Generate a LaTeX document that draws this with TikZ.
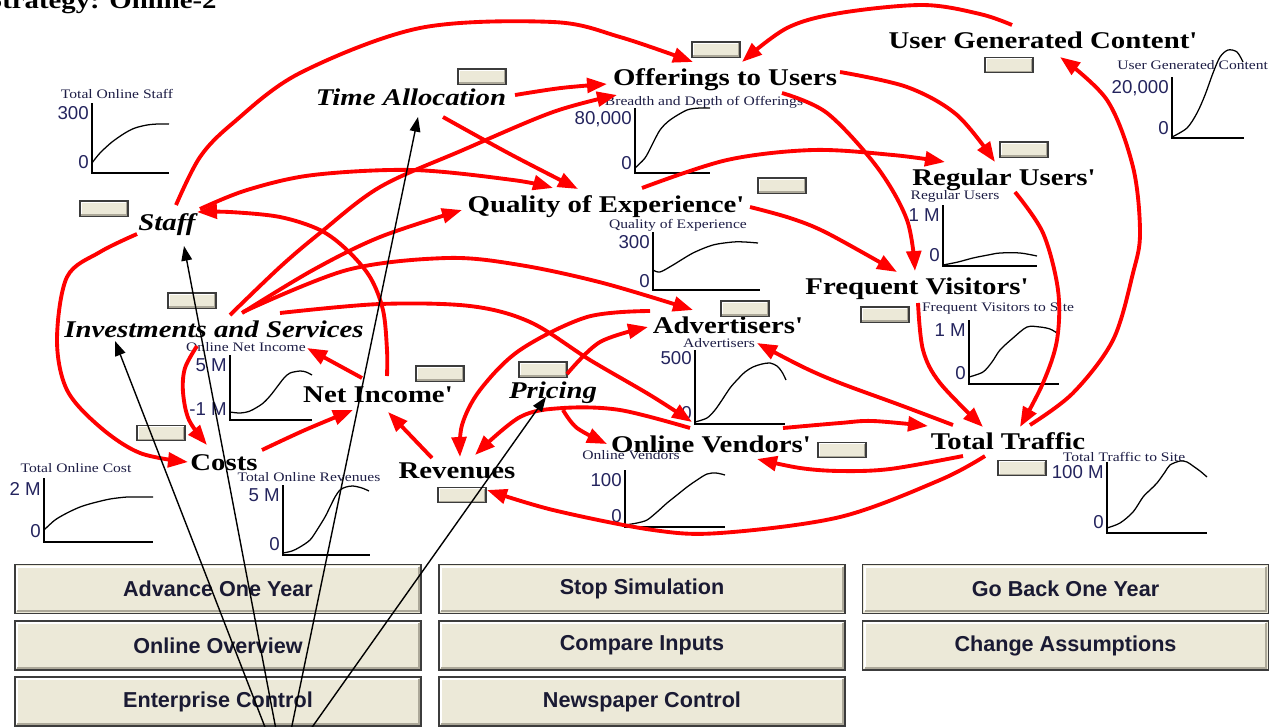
\documentclass[tikz,border=0pt]{standalone}
\usepackage{fontspec}
\usetikzlibrary{arrows.meta}
\newfontfamily\labfont[FakeStretch=1.2]{Liberation Serif}
\newfontfamily\numfont{Liberation Sans}
\definecolor{btnface}{HTML}{ECE9D8}
\definecolor{btnedge}{HTML}{3C3C3C}
\definecolor{btnshade}{HTML}{ACA899}
\definecolor{gtext}{HTML}{1E1E46}
\definecolor{gnum}{HTML}{24245E}
\definecolor{btntext}{HTML}{1A1A33}
\definecolor{linkred}{HTML}{FF0000}
\begin{document}
\begin{tikzpicture}[x=0.75pt,y=-0.75pt,
  lab/.style={font=\labfont\bfseries\fontsize{18}{20}\selectfont, inner sep=0pt,
    text height=12.5pt, text depth=3.5pt, anchor=center},
  labi/.style={lab, font=\labfont\bfseries\itshape\fontsize{18}{20}\selectfont},
  gtitle/.style={font=\labfont\fontsize{9.75}{11}\selectfont, text=gtext, inner sep=0pt},
  glabel/.style={font=\numfont\fontsize{14}{16}\selectfont, text=gnum, inner sep=0pt, anchor=east},
  gaxis/.style={draw=black, line width=1.1pt},
  gcurve/.style={draw=black, line width=0.95pt},
  bevel/.style={path picture={
    \draw[white,line width=#1] ([shift={(#1,#1)}]path picture bounding box.south west)
      |- ([shift={(-#1,-#1)}]path picture bounding box.north east);
    \draw[btnshade,line width=#1] ([shift={(#1,#1)}]path picture bounding box.south west)
      -| ([shift={(-#1,-#1)}]path picture bounding box.north east);}},
  bigbtn/.style={draw=btnedge, line width=1.3pt, fill=btnface, bevel=1.6pt,
    minimum width=304.5pt, minimum height=36.75pt, inner sep=0pt,
    font=\numfont\bfseries\fontsize{16.2}{18}\selectfont, text=btntext},
  smallbtn/.style={draw=btnedge, line width=1.1pt, fill=btnface, bevel=1pt,
    minimum width=36pt, minimum height=11.6pt, inner sep=0pt},
  rarr/.style={draw=linkred, line width=2.9pt, line join=round,
    -{Triangle[length=15pt,width=11pt]}},
  barr/.style={draw=black, line width=1.05pt, -{Triangle[length=11pt,width=8pt]}}
]
\useasboundingbox[fill=white] (0,0) rectangle (1270,726);

% ---------- control buttons ----------
\node[bigbtn] (bAdvance) at (218,589) {Advance One Year};
\node[bigbtn] (bStop) at (642,589) {Stop Simulation};
\node[bigbtn] (bBack) at (1065.5,589) {Go Back One Year};
\node[bigbtn] (bOverview) at (218,645.5) {Online Overview};
\node[bigbtn] (bCompare) at (642,645.5) {Compare Inputs};
\node[bigbtn] (bAssume) at (1065.5,645.5) {Change Assumptions};
\node[bigbtn] (bEnterprise) at (218,701.5) {Enterprise Control};
\node[bigbtn] (bNewspaper) at (642,701.5) {Newspaper Control};

% ---------- small time-series graphs ----------
% Total Online Staff
\node[gtitle] (tStaff) at (117,94) {Total Online Staff};
\draw[gaxis] (92,103) -- (92,173) -- (169,173);
\node[glabel] (hStaff) at (89,113) {300};
\node[glabel] (lStaff) at (89,162) {0};
\draw[gcurve] plot[smooth] coordinates {(92,163) (100,153) (112,142) (125,133) (135,128) (147,125) (158,124) (169,124)};
% Breadth and Depth of Offerings
\node[gtitle] (tOffer) at (704,102) {Breadth and Depth of Offerings};
\draw[gaxis] (635,108) -- (635,173) -- (710,173);
\node[glabel] (hOffer) at (632,119) {80,000};
\node[glabel] (lOffer) at (632,163) {0};
\draw[gcurve] plot[smooth] coordinates {(635,168) (645,158) (652,145) (660,130) (670,120) (687,110) (700,108) (710,108)};
% User Generated Content
\node[gtitle, anchor=west] (tUgc) at (1117,65) {User Generated Content};
\draw[gaxis] (1172,77) -- (1172,138) -- (1244,138);
\node[glabel] (hUgc) at (1169,88) {20,000};
\node[glabel] (lUgc) at (1169,128) {0};
\draw[gcurve] plot[smooth] coordinates {(1172,137) (1187,128) (1197,113) (1205,95) (1213,73) (1220,57) (1228,50) (1237,52) (1243,62)};
% Quality of Experience
\node[gtitle] (tQual) at (678,225) {Quality of Experience};
\draw[gaxis] (653,232) -- (653,290) -- (760,290);
\node[glabel] (hQual) at (650,242) {300};
\node[glabel] (lQual) at (650,281) {0};
\draw[gcurve] plot[smooth] coordinates {(653,270) (660,272) (673,265) (693,253) (713,245) (733,242) (745,242) (758,243)};
% Regular Users
\node[gtitle] (tReg) at (955,196) {Regular Users};
\draw[gaxis] (943,205) -- (943,266) -- (1037,266);
\node[glabel] (hReg) at (940,215) {1 M};
\node[glabel] (lReg) at (940,255) {0};
\draw[gcurve] plot[smooth] coordinates {(943,265) (958,262) (973,258) (988,255) (1000,253) (1020,253) (1037,256)};
% Frequent Visitors to Site
\node[gtitle] (tFreq) at (998,309) {Frequent Visitors to Site};
\draw[gaxis] (969,320) -- (969,384) -- (1059,384);
\node[glabel] (hFreq) at (966,330) {1 M};
\node[glabel] (lFreq) at (966,373) {0};
\draw[gcurve] plot[smooth] coordinates {(969,377) (983,372) (992,362) (1000,350) (1013,338) (1027,327) (1040,327) (1050,329) (1057,333)};
% Advertisers
\node[gtitle] (tAdv) at (719,343) {Advertisers};
\draw[gaxis] (695,350) -- (695,424) -- (785,424);
\node[glabel] (hAdv) at (692,358) {500};
\node[glabel] (lAdv) at (692,413) {0};
\draw[gcurve] plot[smooth] coordinates {(695,422) (707,418) (715,410) (722,400) (730,388) (737,380) (745,372) (753,367) (762,364) (770,363) (777,366) (782,372) (786,380)};
% Online Net Income
\node[gtitle] (tNet) at (246,347) {Online Net Income};
\draw[gaxis] (230,355) -- (230,420) -- (312,420);
\node[glabel] (hNet) at (227,365) {5 M};
\node[glabel] (lNet) at (227,409) {-1 M};
\draw[gcurve] plot[smooth] coordinates {(230,412) (240,413) (250,411) (262,404) (270,396) (277,387) (284,378) (290,373) (300,371) (306,372) (312,375)};
% Total Online Cost
\node[gtitle] (tCost) at (76,468) {Total Online Cost};
\draw[gaxis] (44,478) -- (44,542) -- (153,542);
\node[glabel] (hCost) at (41,489) {2 M};
\node[glabel] (lCost) at (41,531) {0};
\draw[gcurve] plot[smooth] coordinates {(44,530) (55,520) (67,513) (80,507) (93,503) (110,499) (127,497) (140,497) (153,497)};
% Total Online Revenues
\node[gtitle] (tRev) at (309,477) {Total Online Revenues};
\draw[gaxis] (283,485) -- (283,555) -- (370,555);
\node[glabel] (hRev) at (280,495) {5 M};
\node[glabel] (lRev) at (280,544) {0};
\draw[gcurve] plot[smooth] coordinates {(283,553) (292,551) (300,547) (310,540) (317,530) (325,517) (330,507) (335,497) (340,490) (346,487) (353,486) (362,488) (369,491)};
% Online Vendors
\node[gtitle] (tVend) at (631,455) {Online Vendors};
\draw[gaxis] (625,470) -- (625,527) -- (725,527);
\node[glabel] (hVend) at (622,480) {100};
\node[glabel] (lVend) at (622,516) {0};
\draw[gcurve] plot[smooth] coordinates {(625,525) (637,523) (647,520) (657,512) (667,503) (677,495) (687,487) (697,480) (707,474) (716,473) (725,475)};
% Total Traffic to Site
\node[gtitle] (tTraf) at (1124,457) {Total Traffic to Site};
\draw[gaxis] (1107,462) -- (1107,533) -- (1207,533);
\node[glabel] (hTraf) at (1104,472) {100 M};
\node[glabel] (lTraf) at (1104,522) {0};
\draw[gcurve] plot[smooth] coordinates {(1107,528) (1120,523) (1133,512) (1143,497) (1150,490) (1157,483) (1165,472) (1170,465) (1180,461) (1187,462) (1193,466) (1200,471) (1207,477)};

% ---------- model variables ----------
\node[lab, anchor=base west] (heading) at (-14,8) {Strategy: Online-2};
\node[lab]  (offer)    at (725,79)  {Offerings to Users};
\node[labi] (timeal)   at (411,99)  {Time Allocation};
\node[lab]  (ugc)      at (1043,42) {User Generated Content'};
\node[lab]  (regusers) at (1004,179) {Regular Users'};
\node[lab]  (quality)  at (606,206) {Quality of Experience'};
\node[labi] (staff)    at (167,224) {Staff};
\node[lab]  (freqvis)  at (917,288) {Frequent Visitors'};
\node[labi] (invest)   at (214,331) {Investments and Services};
\node[lab]  (advert)   at (728,327) {Advertisers'};
\node[lab]  (netinc)   at (378,396) {Net Income'};
\node[labi] (pricing)  at (553,392) {Pricing};
\node[lab]  (vendors)  at (711,446) {Online Vendors'};
\node[lab]  (traffic)  at (1008,443) {Total Traffic};
\node[lab]  (costs)    at (224,464) {Costs};
\node[lab]  (revenues) at (457,472) {Revenues};

% ---------- small value buttons ----------
\node[smallbtn] (sbOffer) at (716,49.5) {};
\node[smallbtn] (sbTime)  at (482,76.5) {};
\node[smallbtn] (sbUgc)   at (1009,65) {};
\node[smallbtn] (sbReg)   at (1024,149.5) {};
\node[smallbtn] (sbQual)  at (782,185.5) {};
\node[smallbtn] (sbStaff) at (104,208.5) {};
\node[smallbtn] (sbInv)   at (192,300.5) {};
\node[smallbtn] (sbFreq)  at (885,314.5) {};
\node[smallbtn] (sbAdv)   at (745,308.5) {};
\node[smallbtn] (sbNet)   at (440,373.5) {};
\node[smallbtn] (sbPrice) at (543,369.5) {};
\node[smallbtn] (sbCost)  at (161,433) {};
\node[smallbtn] (sbVend)  at (842,450) {};
\node[smallbtn] (sbTraf)  at (1022,468) {};
\node[smallbtn] (sbRev)   at (462,495) {};

% ---------- causal links ----------
% into Offerings to Users
\draw[rarr] plot[smooth,tension=0.55] coordinates {([shift={(9,-19)}]staff.center) (200,157) (233,123) (300,73) (420,28) (553,22) (620,37) ([shift={(-32,-17)}]offer.center)};
\draw[rarr] plot[smooth,tension=0.55] coordinates {([shift={(-31,-17)}]ugc.center) (980,14) (923,5) (840,13) (787,28) ([shift={(17,-17)}]offer.center)};
\draw[rarr] plot[smooth,tension=0.55] coordinates {([shift={(104,-4)}]timeal.center) (561,88) ([shift={(-118,5)}]offer.center)};
\draw[rarr] plot[smooth,tension=0.55] coordinates {([shift={(16,-16)}]invest.center) (280,267) (320,233) (380,187) (463,150) (553,112) ([shift={(-108,16)}]offer.center)};
% from Offerings to Users
\draw[rarr] plot[smooth,tension=0.55] coordinates {([shift={(115,-7)}]offer.center) (907,87) (957,115) ([shift={(-9,-17)}]regusers.center)};
\draw[rarr] plot[smooth,tension=0.55] coordinates {([shift={(57,14)}]offer.center) (827,113) (877,167) (907,220) ([shift={(-2,-17)}]freqvis.center)};
% traffic feeding user generated content
\draw[rarr] plot[smooth,tension=0.55] coordinates {([shift={(22,-18)}]traffic.center) (1073,393) (1113,340) (1133,273) (1140,233) (1133,167) (1107,100) ([shift={(17,15)}]ugc.center)};
% into Total Traffic
\draw[rarr] plot[smooth,tension=0.55] coordinates {([shift={(11,13)}]regusers.center) (1043,233) (1058,290) (1057,340) (1043,383) ([shift={(12,-16)}]traffic.center)};
\draw[rarr] plot[smooth,tension=0.55] coordinates {([shift={(1,15)}]freqvis.center) (923,350) (940,383) ([shift={(-25,-16)}]traffic.center)};
\draw[rarr] plot[smooth,tension=0.55] coordinates {([shift={(72,-18)}]vendors.center) (840,423) (873,421) ([shift={(-80,-17)}]traffic.center)};
% from Quality of Experience
\draw[rarr] plot[smooth,tension=0.55] coordinates {([shift={(144,1)}]quality.center) (790,218) (827,233) ([shift={(-20,-16)}]freqvis.center)};
\draw[rarr] plot[smooth,tension=0.55] coordinates {([shift={(36,-18)}]quality.center) (727,160) (813,150) (893,155) ([shift={(-59,-17)}]regusers.center)};
% into Quality of Experience
\draw[rarr] plot[smooth,tension=0.55] coordinates {([shift={(32,18)}]timeal.center) (510,154) ([shift={(-28,-17)}]quality.center)};
\draw[rarr] plot[smooth,tension=0.55] coordinates {([shift={(33,-15)}]staff.center) (247,190) (313,175) (413,170) (513,180) ([shift={(-53,-18)}]quality.center)};
\draw[rarr] plot[smooth,tension=0.55] coordinates {([shift={(28,-18)}]invest.center) (313,270) (380,237) ([shift={(-144,4)}]quality.center)};
% from Investments and Services
\draw[rarr] plot[smooth,tension=0.55] coordinates {([shift={(29,-19)}]invest.center) (347,270) (447,258) (520,265) (603,283) ([shift={(-35,-17)}]advert.center)};
\draw[rarr] plot[smooth,tension=0.55] coordinates {([shift={(66,-18)}]invest.center) (380,304) (470,306) (530,322) (590,360) (650,395) ([shift={(-19,-24)}]vendors.center)};
\draw[rarr] plot[smooth,tension=0.55] coordinates {([shift={(-17,15)}]invest.center) (185,368) (183,392) (189,420) ([shift={(-17,-19)}]costs.center)};
% from Net Income
\draw[rarr] ([shift={(-16,-18)}]netinc.center) -- ([shift={(93,17)}]invest.center);
\draw[rarr] plot[smooth,tension=0.55] coordinates {([shift={(9,-20)}]netinc.center) (387,350) (383,310) (370,277) (347,250) (320,230) (280,217) (230,212) ([shift={(30,-12)}]staff.center)};
% staff cost loop
\draw[rarr] plot[smooth,tension=0.55] coordinates {([shift={(-30,10)}]staff.center) (100,252) (67,277) (57,340) (67,390) (100,427) (140,453) ([shift={(-36,-2)}]costs.center)};
% into Net Income
\draw[rarr] plot[smooth,tension=0.55] coordinates {([shift={(38,-14)}]costs.center) (305,430) ([shift={(-25,14)}]netinc.center)};
\draw[rarr] ([shift={(-25,-14)}]revenues.center) -- ([shift={(10,16)}]netinc.center);
% into Revenues
\draw[rarr] plot[smooth,tension=0.55] coordinates {([shift={(-78,-16)}]advert.center) (587,317) (520,350) (480,390) (462,425) ([shift={(3,-15)}]revenues.center)};
\draw[rarr] plot[smooth,tension=0.55] coordinates {([shift={(-21,-18)}]vendors.center) (620,410) (563,408) (520,417) ([shift={(18,-17)}]revenues.center)};
\draw[rarr] plot[smooth,tension=0.55] coordinates {([shift={(-23,13)}]traffic.center) (940,480) (840,517) (720,533) (653,530) (553,510) ([shift={(30,18)}]revenues.center)};
% from Pricing
\draw[rarr] plot[smooth,tension=0.55] coordinates {([shift={(14,-18)}]pricing.center) (600,342) ([shift={(-80,0)}]advert.center)};
\draw[rarr] plot[smooth,tension=0.55] coordinates {([shift={(10,18)}]pricing.center) (577,428) ([shift={(-104,-2)}]vendors.center)};
% from Total Traffic
\draw[rarr] plot[smooth,tension=0.55] coordinates {([shift={(-45,13)}]traffic.center) (890,469) (840,471) (800,468) ([shift={(46,13)}]vendors.center)};
\draw[rarr] plot[smooth,tension=0.55] coordinates {([shift={(-55,-18)}]traffic.center) (900,405) (840,383) (803,367) ([shift={(29,16)}]advert.center)};

% ---------- pointers to the decision variables ----------
\coordinate (pInv) at (270,740);
\coordinate (pStaff) at (278,740);
\coordinate (pTime) at (289,740);
\coordinate (pPrice) at (303,740);
\draw[barr] (pInv) -- ([shift={(-99,10)}]invest.center);
\draw[barr] (pStaff) -- ([shift={(17,22)}]staff.center);
\draw[barr] (pTime) -- ([shift={(7,18)}]timeal.center);
\draw[barr] (pPrice) -- ([shift={(-7,5)}]pricing.center);
\end{tikzpicture}
\end{document}
